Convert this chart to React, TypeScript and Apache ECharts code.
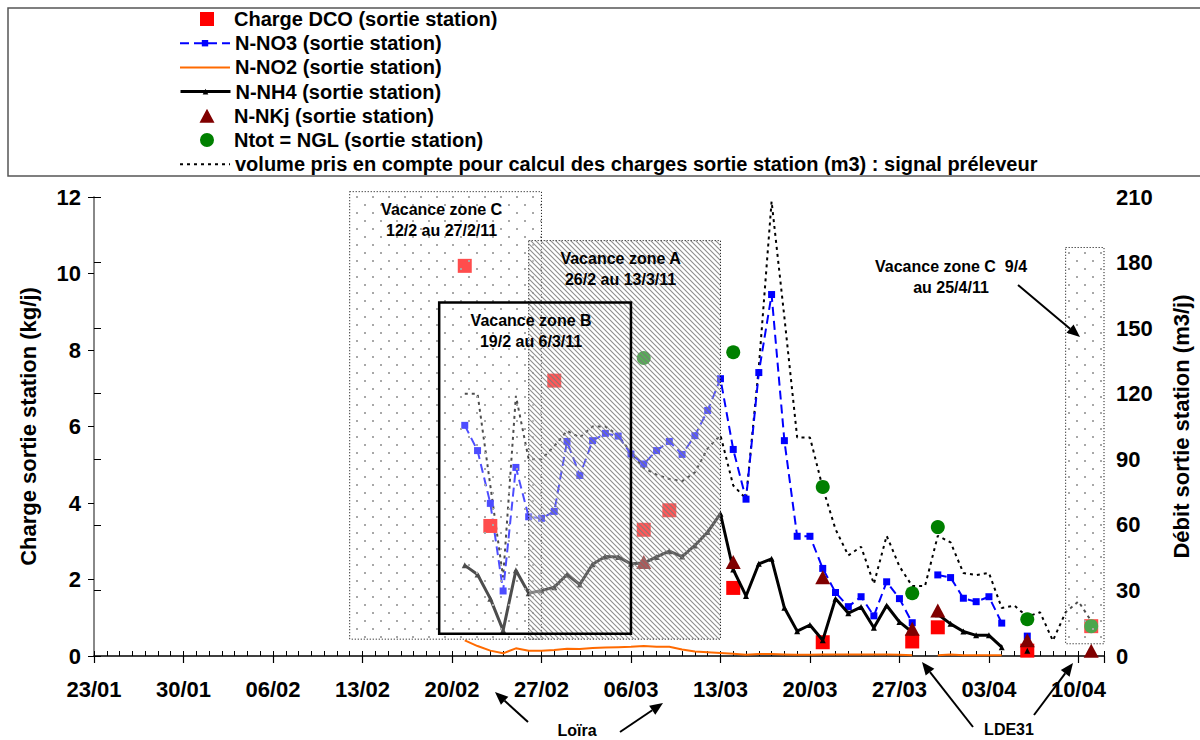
import React, { useEffect, useRef } from "react";
import * as echarts from "echarts";

const FONT = '"Liberation Sans", Arial, sans-serif';

// x axis: days counted from 23/01/2011
const tickLabels = ["23/01", "30/01", "06/02", "13/02", "20/02", "27/02", "06/03", "13/03", "20/03", "27/03", "03/04", "10/04"];
const tickDays = [0, 7, 14, 21, 28, 35, 42, 49, 56, 63, 70, 77];

const lineDays = [29, 30, 31, 32, 33, 34, 35, 36, 37, 38, 39, 40, 41, 42, 43, 44, 45, 46, 47, 48, 49, 50, 51, 52, 53, 54, 55, 56, 57, 58, 59, 60, 61, 62, 63, 64, 65, 66, 67, 68, 69, 70, 71, 72, 73, 74, 75, 76, 77, 78];

const no3 = [6.03, 5.37, 3.99, 1.70, 4.93, 3.64, 3.60, 3.78, 5.61, 4.72, 5.63, 5.82, 5.75, 5.28, 5.02, 5.37, 5.61, 5.27, 5.76, 6.42, 7.25,
  5.40, 4.10, 7.41, 9.45, 5.63, 3.13, 3.13, 2.29, 1.66, 1.29, 1.55, 1.05, 1.94, 1.50, 0.87,
  null, 2.12, 2.05, 1.51, 1.42, 1.55, 0.86, null, 0.52, null, null, null, null, 0.75];

const no2 = [0.41, 0.26, 0.14, 0.07, 0.20, 0.14, 0.14, 0.16, 0.19, 0.18, 0.21, 0.22, 0.23, 0.24, 0.26, 0.24, 0.24, 0.17, 0.12, 0.10, 0.08,
  0.06, 0.03, 0.05, 0.05, 0.04, 0.03, 0.03, 0.04, 0.04, 0.04, 0.04, 0.04, 0.04, 0.03, 0.02,
  null, 0.02, 0.04, 0.02, 0.02, 0.02, 0.02, null, null, null, null, null, null, null];

const nh4 = [2.37, 2.13, 1.50, 0.67, 2.24, 1.64, 1.71, 1.80, 2.13, 1.87, 2.40, 2.60, 2.59, 2.41, 2.43, 2.59, 2.74, 2.60, 2.89, 3.24, 3.72,
  2.26, 1.57, 2.41, 2.54, 1.26, 0.65, 0.81, 0.41, 1.50, 1.12, 1.28, 0.74, 1.32, 0.89, 0.62,
  null, 1.09, 0.84, 0.64, 0.54, 0.54, 0.23, null, 0.14, null, null, null, null, null];

const volume = [120, 120, 78, 36, 119, 90, 90, 96, 103, 100, 105, 105, 101, 93, 86, 83, 81, 80, 84, 95, 101,
  78, 72, 132, 208, 155, 100, 100, 77, 58, 46, 50, 33, 55, 41, 32,
  32, 55, 52, 38, 37, 38, 22, 23, 18, 20, 7, 20, 25, 16];

const dcoDays = [29, 31, 36, 43, 45, 50, 57, 64, 66, 73, 78];
const dcoValues = [10.2, 3.4, 7.2, 3.3, 3.81, 1.78, 0.36, 0.38, 0.75, 0.14, 0.78];

const nkjDays = [43, 50, 57, 64, 66, 73, 78];
const nkjValues = [2.46, 2.46, 2.06, 0.71, 1.19, 0.41, 0.14];

const nglDays = [43, 50, 57, 64, 66, 73, 78];
const nglValues = [7.79, 7.94, 4.42, 1.64, 3.37, 0.96, 0.78];

// holiday periods (day index, left-axis units)
const boxStart = [20, 34, 27, 76];
const boxEnd = [35, 49, 42, 79];
const boxBottom = [0.44, 0.44, 0.58, 0.32];
const boxTop = [12.14, 10.86, 9.24, 10.68];
const boxLabels = ["Vacance zone C\n12/2 au 27/2/11", "Vacance zone A\n26/2 au 13/3/11", "Vacance zone B\n19/2 au 6/3/11", ""];
const boxKinds = ["dots", "hatch", "frame", "dots"];

const names = [
  "Charge DCO (sortie station)",
  "N-NO3 (sortie station)",
  "N-NO2 (sortie station)",
  "N-NH4 (sortie station)",
  "N-NKj (sortie station)",
  "Ntot = NGL (sortie station)",
  "volume pris en compte pour calcul des charges sortie station (m3) : signal préleveur",
];

// legend icons for the marker-only series (a 50x14 box with the marker near its middle)
const PAD = "M0,7L0.01,7M50,7L49.99,7";
const legendIcons: (string | null)[] = [
  "path://" + PAD + "M21,0L35,0L35,14L21,14Z",
  null,
  null,
  null,
  "path://" + PAD + "M28,0L35.5,14L20.5,14Z",
  "path://" + PAD + "M21,7A7,7,0,1,0,35,7A7,7,0,1,0,21,7Z",
  null,
];

const pairs = (days: number[], vals: (number | null)[]) => days.map((d, i) => [d, vals[i]]);

function makePattern(kind: string) {
  const size = kind === "dots" ? 16 : 5;
  const c = document.createElement("canvas");
  c.width = size;
  c.height = size;
  const g = c.getContext("2d")!;
  g.fillStyle = kind === "dots" ? "rgba(255,255,255,0.3)" : "rgba(255,255,255,0.35)";
  g.fillRect(0, 0, size, size);
  if (kind === "dots") {
    g.fillStyle = "#a8a8a8";
    g.fillRect(4, 4, 2, 2);
    g.fillRect(12, 12, 2, 2);
  } else {
    g.strokeStyle = "rgba(120,120,120,0.85)";
    g.lineWidth = 1.1;
    g.beginPath();
    g.moveTo(-1, -1);
    g.lineTo(size + 1, size + 1);
    g.moveTo(-2, size - 2);
    g.lineTo(2, size + 2);
    g.moveTo(size - 2, -2);
    g.lineTo(size + 2, 2);
    g.stroke();
  }
  return { image: c, repeat: "repeat", imageWidth: size, imageHeight: size };
}

function arrow(x1: number, y1: number, x2: number, y2: number) {
  const a = Math.atan2(y2 - y1, x2 - x1);
  const L = 13, W = 5.5;
  const bx = x2 - L * Math.cos(a), by = y2 - L * Math.sin(a);
  const px = -Math.sin(a) * W, py = Math.cos(a) * W;
  return [
    { type: "line", z: 100, shape: { x1, y1, x2: bx, y2: by }, style: { stroke: "#000", lineWidth: 2 } },
    { type: "polygon", z: 100, shape: { points: [[x2, y2], [bx + px, by + py], [bx - px, by - py]] }, style: { fill: "#000" } },
  ];
}

export default function App() {
  const ref = useRef<HTMLDivElement>(null);
  useEffect(() => {
    if (!ref.current) return;
    const chart = echarts.init(ref.current, null, { renderer: "svg" });
    const patterns: any = { dots: makePattern("dots"), hatch: makePattern("hatch") };
    const legendHeights = [14, 8, 8, 7, 14, 14, 8];
    const textStyle = { fontSize: 20, fontWeight: "bold", fontFamily: FONT, color: "#000" };

    const option: any = {
      animation: false,
      backgroundColor: "#fff",
      grid: { left: 94, right: 93, top: 197, bottom: 84, containLabel: false },
      legend: names.map((n, i) => {
        const item: any = { name: n };
        if (legendIcons[i]) item.icon = legendIcons[i];
        const l: any = {
          data: [item],
          left: 179,
          top: 9 + i * 24.2,
          itemWidth: 50,
          itemHeight: legendHeights[i],
          itemGap: 0,
          padding: 0,
          selectedMode: false,
          symbolKeepAspect: true,
          textStyle,
          lineStyle: { width: "inherit" },
        };
        if (i === 2 || i === 6) l.itemStyle = { opacity: 0 };
        return l;
      }),
      xAxis: [
        {
          type: "value",
          min: 0,
          max: 79,
          interval: 7,
          axisLine: { onZero: false, lineStyle: { color: "#000", width: 1.5 } },
          axisTick: { show: true, inside: false, length: 7, lineStyle: { color: "#000", width: 1.2 } },
          axisLabel: {
            fontSize: 22,
            fontWeight: "bold",
            fontFamily: FONT,
            color: "#000",
            margin: 22,
            formatter: (v: number) => {
              const k = tickDays.indexOf(v);
              return k >= 0 ? tickLabels[k] : "";
            },
          },
          splitLine: { show: false },
        },
        {
          type: "value",
          min: 0,
          max: 79,
          interval: 1,
          position: "bottom",
          axisLine: { show: false, onZero: false },
          axisTick: { show: true, inside: true, length: 5, lineStyle: { color: "#000", width: 1 } },
          axisLabel: { show: false },
          splitLine: { show: false },
        },
      ],
      yAxis: [
        {
          type: "value",
          min: 0,
          max: 12,
          interval: 2,
          name: "Charge sortie station (kg/j)",
          nameLocation: "middle",
          nameRotate: 90,
          nameGap: 55,
          nameTextStyle: { fontSize: 22, fontWeight: "bold", fontFamily: FONT, color: "#000" },
          axisLine: { show: true, lineStyle: { color: "#808080", width: 1.5 } },
          axisTick: { show: true, length: 6, lineStyle: { color: "#000" } },
          axisLabel: { fontSize: 22, fontWeight: "bold", fontFamily: FONT, color: "#000", margin: 13 },
          splitLine: { show: false },
        },
        {
          type: "value",
          min: 0,
          max: 210,
          interval: 30,
          position: "right",
          name: "Débit sortie station (m3/j)",
          nameLocation: "middle",
          nameRotate: 90,
          nameGap: 66,
          nameTextStyle: { fontSize: 22, fontWeight: "bold", fontFamily: FONT, color: "#000" },
          axisLine: { show: true, lineStyle: { color: "#808080", width: 1.5 } },
          axisTick: { show: true, length: 7, lineStyle: { color: "#000" } },
          axisLabel: { fontSize: 22, fontWeight: "bold", fontFamily: FONT, color: "#000", margin: 12 },
          splitLine: { show: false },
        },
      ],
      series: [
        {
          name: names[6],
          type: "line",
          yAxisIndex: 1,
          data: pairs(lineDays, volume),
          symbol: "none",
          lineStyle: { color: "#000", width: 2, type: [3, 4] },
          itemStyle: { color: "#000" },
          z: 1,
        },
        {
          name: names[2],
          type: "line",
          data: pairs(lineDays, no2),
          symbol: "none",
          lineStyle: { color: "#FF6A00", width: 2 },
          itemStyle: { color: "#FF6A00" },
          z: 2,
        },
        {
          name: names[1],
          type: "line",
          data: pairs(lineDays, no3),
          symbol: "rect",
          symbolSize: 7,
          lineStyle: { color: "#0000FF", width: 2, type: [9, 5] },
          itemStyle: { color: "#0000FF" },
          z: 3,
        },
        {
          name: names[0],
          type: "scatter",
          data: pairs(dcoDays, dcoValues),
          symbol: "rect",
          symbolSize: 14,
          itemStyle: { color: "#FF0000", opacity: 1 },
          z: 4,
        },
        {
          name: names[3],
          type: "line",
          data: pairs(lineDays, nh4),
          symbol: "triangle",
          symbolSize: 6,
          lineStyle: { color: "#000", width: 3 },
          itemStyle: { color: "#000" },
          z: 5,
        },
        {
          name: names[4],
          type: "scatter",
          data: pairs(nkjDays, nkjValues),
          symbol: "triangle",
          symbolSize: [15, 14],
          itemStyle: { color: "#800000", opacity: 1 },
          z: 6,
        },
        {
          name: names[5],
          type: "scatter",
          data: pairs(nglDays, nglValues),
          symbol: "circle",
          symbolSize: 14,
          itemStyle: { color: "#008000", opacity: 1 },
          z: 7,
        },
        {
          type: "custom",
          silent: true,
          z: 10,
          clip: false,
          data: boxStart.map((s, i) => [s, boxEnd[i], boxBottom[i], boxTop[i]]),
          encode: { x: [0, 1], y: [2, 3] },
          renderItem: (params: any, api: any) => {
            const i = params.dataIndex;
            const p0 = api.coord([api.value(0), api.value(3)]);
            const p1 = api.coord([api.value(1), api.value(2)]);
            const kind = boxKinds[i];
            const rect: any = {
              type: "rect",
              shape: { x: p0[0], y: p0[1], width: p1[0] - p0[0], height: p1[1] - p0[1] },
              style:
                kind === "frame"
                  ? { fill: "none", stroke: "#000", lineWidth: 2.5 }
                  : { fill: patterns[kind], stroke: "#000", lineWidth: 1, lineDash: [1, 2] },
            };
            const children: any[] = [rect];
            if (boxLabels[i]) {
              children.push({
                type: "text",
                x: (p0[0] + p1[0]) / 2 - 4,
                y: p0[1] + 7,
                style: {
                  text: boxLabels[i],
                  align: "center",
                  verticalAlign: "top",
                  fontSize: 16,
                  fontWeight: "bold",
                  fontFamily: FONT,
                  lineHeight: 21,
                  fill: "#000",
                },
              });
            }
            return { type: "group", children };
          },
        },
      ],
      graphic: [
        {
          type: "rect",
          z: 100,
          shape: { x: 8, y: 8, width: 1200, height: 168 },
          style: { fill: "none", stroke: "#555", lineWidth: 1.5 },
          silent: true,
        },
        {
          type: "text",
          z: 100,
          x: 951,
          y: 277,
          style: {
            text: "Vacance zone C  9/4\nau 25/4/11",
            align: "center",
            verticalAlign: "middle",
            fontSize: 16,
            fontWeight: "bold",
            fontFamily: FONT,
            lineHeight: 21,
            fill: "#000",
          },
        },
        ...arrow(1018, 285, 1080, 337),
        {
          type: "text",
          z: 100,
          x: 577,
          y: 730,
          style: { text: "Loïra", align: "center", verticalAlign: "middle", fontSize: 16, fontWeight: "bold", fontFamily: FONT, fill: "#000" },
        },
        ...arrow(528, 722, 495, 692),
        ...arrow(620, 732, 663, 703),
        {
          type: "text",
          z: 100,
          x: 1009,
          y: 729,
          style: { text: "LDE31", align: "center", verticalAlign: "middle", fontSize: 16, fontWeight: "bold", fontFamily: FONT, fill: "#000" },
        },
        ...arrow(973, 727, 922, 662),
        ...arrow(1034, 715, 1073, 663),
      ],
    };
    chart.setOption(option);
    return () => chart.dispose();
  }, []);
  return <div ref={ref} style={{ position: "fixed", left: 0, top: 0, width: 1200, height: 740, background: "#fff" }} />;
}
